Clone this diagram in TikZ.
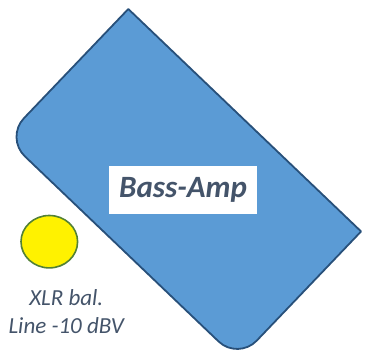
\documentclass[tikz,border=0pt]{standalone}
\usepackage{fontspec}
\setmainfont{Carlito}
\usepackage{xcolor}
\definecolor{ampblue}{RGB}{91,155,213}
\definecolor{ampedge}{RGB}{40,80,122}
\definecolor{labelgray}{RGB}{68,84,106}
\definecolor{jackedge}{RGB}{83,129,53}
\usetikzlibrary{positioning}

\begin{document}
\begin{tikzpicture}[
    x=1pt, y=1pt,
    every node/.style={text=labelgray},
    amp/.style={fill=ampblue, draw=ampedge, line width=1.8pt, line join=round},
    namebox/.style={fill=white, minimum width=148pt, minimum height=48pt,
      font=\fontsize{31}{36}\selectfont\bfseries\itshape},
    jack/.style={fill=yellow, draw=jackedge, line width=1.6pt},
    jacklabel/.style={align=center, font=\fontsize{23}{28}\selectfont\itshape}
  ]
    \useasboundingbox (0,0) rectangle (365,351);

    % amplifier body, turned, two rounded corners
    \begin{scope}[shift={(128.3,342)}, rotate=-43.7]
      \draw[amp] (0,0) -- (322,0) -- (322,-151) arc (0:-90:27)
        -- (27,-178) arc (270:180:27) -- cycle;
    \end{scope}

    \node[namebox] (amp) at (183,161) {Bass-Amp};

    % input jack and its label
    \draw[jack] (49.3,109.3) ellipse [x radius=28.3, y radius=26.2];
    \coordinate (jack) at (49.3,109.3);
    \node[jacklabel, below=44pt of jack, xshift=17pt] (xlr) {XLR bal.\\Line -10 dBV};
\end{tikzpicture}
\end{document}
